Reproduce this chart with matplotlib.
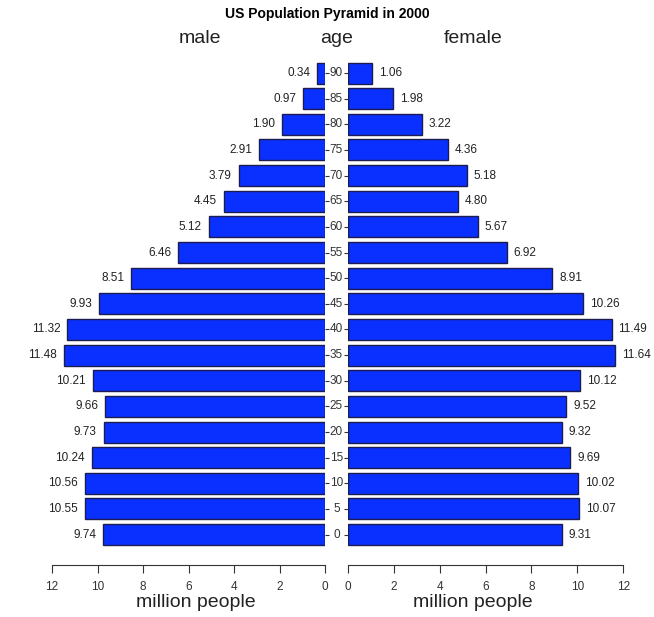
import matplotlib.pyplot as plt
import numpy as np

plt.rcParams['font.family'] = ['Liberation Sans', 'DejaVu Sans']

ages = [0, 5, 10, 15, 20, 25, 30, 35, 40, 45, 50, 55, 60, 65, 70, 75, 80, 85, 90]
male = [9.74, 10.55, 10.56, 10.24, 9.73, 9.66, 10.21, 11.48, 11.32, 9.93,
        8.51, 6.46, 5.12, 4.45, 3.79, 2.91, 1.90, 0.97, 0.34]
female = [9.31, 10.07, 10.02, 9.69, 9.32, 9.52, 10.12, 11.64, 11.49, 10.26,
          8.91, 6.92, 5.67, 4.80, 5.18, 4.36, 3.22, 1.98, 1.06]
xticks = [0, 2, 4, 6, 8, 10, 12]

bar_color = '#0a30ff'
edge_color = '#1c1c50'

fig = plt.figure(figsize=(6.54, 6.17), dpi=100)
bottom, height = 0.1086, 0.798
ax_m = fig.add_axes([0.0795, bottom, 0.4175, height])
ax_f = fig.add_axes([0.532, bottom, 0.421, height])

pos = np.arange(len(ages))

ax_m.barh(pos, male, height=0.82, color=bar_color, edgecolor=edge_color, linewidth=1)
ax_f.barh(pos, female, height=0.82, color=bar_color, edgecolor=edge_color, linewidth=1)

for p, v in zip(pos, male):
    ax_m.annotate(f'{v:.2f}', (v, p), xytext=(-5, 0), textcoords='offset points',
                  ha='right', va='center', fontsize=8.5, color='#222222',
                  annotation_clip=False)
for p, v in zip(pos, female):
    ax_f.annotate(f'{v:.2f}', (v, p), xytext=(5, 0), textcoords='offset points',
                  ha='left', va='center', fontsize=8.5, color='#222222',
                  annotation_clip=False)

ax_m.set_xlim(12, 0)
ax_f.set_xlim(0, 12)
for ax in (ax_m, ax_f):
    ax.set_ylim(-0.6, 18.6)
    for s in ('top', 'right', 'left'):
        ax.spines[s].set_visible(False)
    ax.spines['bottom'].set_position(('outward', 11))
    ax.spines['bottom'].set_color('#333333')
    ax.set_xticks(xticks)
    ax.tick_params(axis='x', length=6, colors='#333333', labelsize=8.5, pad=5)
    ax.set_xlabel('million people', fontsize=14, labelpad=-3, color='#222222')
ax_m.xaxis.set_label_coords(0.525, -0.09)
ax_f.xaxis.set_label_coords(0.452, -0.09)

# age ticks in the middle gap
ax_m.yaxis.tick_right()
ax_m.set_yticks(pos)
ax_m.tick_params(axis='y', length=3, labelright=False, colors='#333333')
ax_f.set_yticks(pos)
ax_f.tick_params(axis='y', length=3, labelleft=False, colors='#333333')
for p, a in zip(pos, ages):
    fig.text(0.5145, bottom + height * (p + 0.6) / 19.2, str(a), ha='center',
             va='center', fontsize=8.5, color='#333333')

fig.text(0.5, 0.978, 'US Population Pyramid in 2000', ha='center', va='center',
         fontsize=10, fontweight='bold')
fig.text(0.306, 0.937, 'male', ha='center', va='center', fontsize=14, color='#222222')
fig.text(0.514, 0.937, 'age', ha='center', va='center', fontsize=14, color='#222222')
fig.text(0.723, 0.937, 'female', ha='center', va='center', fontsize=14, color='#222222')

fig.savefig('out.png', dpi=100)
